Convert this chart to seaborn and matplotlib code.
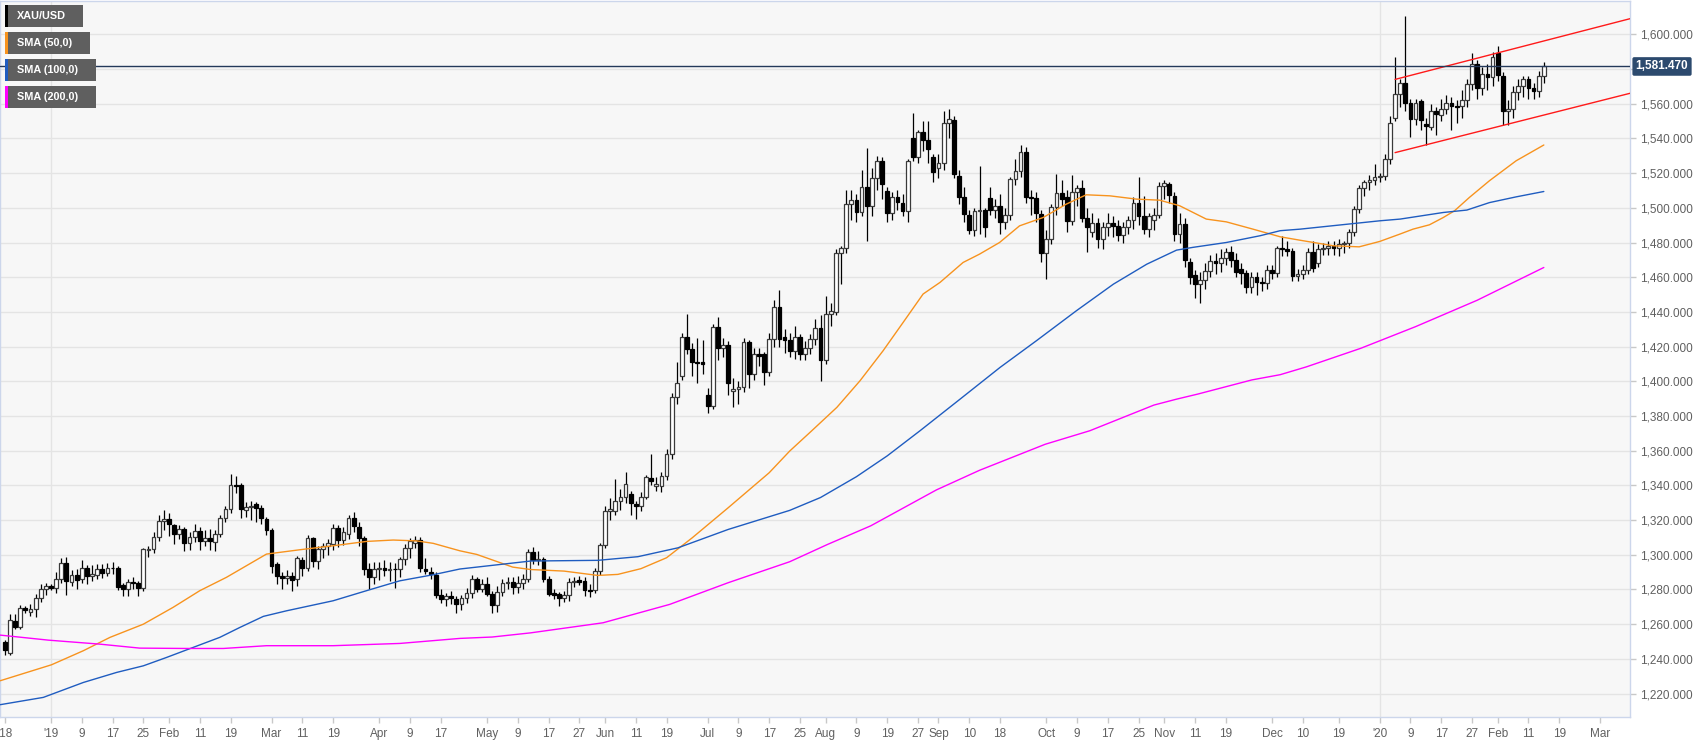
import numpy as np
import pandas as pd
import matplotlib
matplotlib.use("Agg")
import matplotlib.pyplot as plt
from matplotlib import font_manager as fm
from matplotlib.patches import Rectangle
import matplotlib.transforms as mtransforms
import seaborn as sns

# ---------------- data ----------------
first_day = "2018-12-19"
holidays = ["2019-04-19", "2019-12-25"]

opens = [
    # Dec 2018
    1249.7, 1243.6, 1261.8, 1258.5, 1269.3, 1267.2, 1268.9, 1275.3, 1280.2,
    # Jan 2019
    1282, 1281, 1285.8, 1295, 1284.5, 1288.5, 1285.8, 1292.5, 1287.9, 1288.5, 1291.6, 1289.7,
    1292.5, 1292.2, 1282.4, 1280, 1284.5, 1283.5, 1281, 1302.5, 1303.5, 1310.4, 1319.4,
    # Feb
    1320.8, 1317, 1311.8, 1314.6, 1306.6, 1310.2, 1313.7, 1307.9, 1309.8, 1307.3, 1312.1, 1321,
    1326.2, 1340, 1340, 1325.8, 1327.5, 1329.4, 1327.1, 1320.8,
    # Mar
    1314.3, 1294.9, 1287.7, 1286.8, 1287.5, 1285.8, 1297, 1292.5, 1309.4, 1296.4, 1303.1, 1305,
    1306, 1315.2, 1308.5, 1311.8, 1321, 1316.2, 1309.4, 1291.6, 1287.4,
    # Apr
    1291.6, 1292.2, 1291.2, 1292, 1291.6, 1297.7, 1304, 1307, 1308.5, 1292, 1290, 1288.5,
    1276.8, 1274.7, 1276.2, 1274.3, 1271.4, 1274.9, 1278.1, 1285.8, 1280,
    # May
    1282.9, 1277.2, 1271, 1278.7, 1284, 1284.5, 1281.4, 1283.9, 1285.8, 1301.8, 1297, 1297.5,
    1286, 1277.7, 1277.4, 1274.9, 1277, 1284.5, 1285.4, 1284.9, 1279.9, 1279.9, 1290.4,
    # Jun
    1305.8, 1325, 1325.4, 1331.2, 1333.5, 1335, 1329.2, 1328, 1333.5, 1344.2, 1339.5, 1339.8,
    1345.6, 1358, 1390.7, 1403, 1425.3, 1418.6, 1411.3, 1410.9,
    # Jul
    1392, 1386, 1431.4, 1419, 1421, 1394.6, 1395.6, 1396.5, 1422.4, 1404, 1415.7, 1415.5,
    1405.3, 1424.6, 1443, 1425.4, 1424, 1417.3, 1425.4, 1415.8, 1419.2, 1424.4, 1430.8,
    # Aug
    1412.3, 1438.5, 1440, 1474.2, 1477, 1502, 1504.6, 1497.5, 1512, 1501.3, 1517.3, 1527,
    1509.6, 1497, 1506, 1502.7, 1498, 1540, 1529, 1543.7, 1538.8, 1529,
    # Sep
    1523, 1526, 1549, 1550.8, 1518.6, 1506, 1496, 1487.3, 1498, 1498.5, 1505.8, 1498.5,
    1501.3, 1491.7, 1496, 1516.5, 1521.2, 1532, 1506, 1505.4, 1496.3,
    # Oct
    1474, 1482.3, 1500.2, 1508.7, 1506, 1492.5, 1509.2, 1511.7, 1494.4, 1486, 1491.3, 1482.3,
    1488.7, 1491.5, 1489.5, 1484.2, 1489, 1492.9, 1503, 1495, 1487.5, 1493, 1496,
    # Nov
    1512.5, 1514, 1506.7, 1485, 1490.6, 1469, 1461, 1456, 1458.6, 1463.7, 1469.4, 1468,
    1471, 1474.6, 1469.8, 1465, 1462.5, 1454.4, 1460, 1457.3, 1456.7,
    # Dec
    1464.4, 1462.5, 1477, 1476, 1475, 1460.6, 1462, 1464, 1474.8, 1468, 1476, 1476.9,
    1478, 1477, 1479, 1480, 1486, 1499.2, 1511.7, 1514.6, 1516,
    # Jan 2020
    1517.5, 1518.5, 1528, 1552, 1565.6, 1571.7, 1560.2, 1551.2, 1561.5, 1548.3, 1546.7, 1556,
    1553.7, 1557, 1560.2, 1558.8, 1558.4, 1562.3, 1571.3, 1582.9, 1569, 1577, 1575.5,
    # Feb 2020
    1589, 1576, 1556, 1557, 1566.5, 1570, 1574, 1569, 1567.5, 1576,
]

highs = [
    1251, 1265.6, 1265.6, 1271, 1270.5, 1271.5, 1277.5, 1283, 1284,
    1283, 1290, 1298, 1299, 1291, 1292, 1296.8, 1294, 1294, 1294.5, 1294.5, 1295,
    1296, 1293.5, 1284, 1286, 1287, 1285, 1304, 1305, 1313, 1323, 1326,
    1324, 1318, 1317, 1316, 1313, 1318, 1316, 1314, 1315, 1314, 1323, 1328,
    1346.3, 1345.5, 1341.5, 1330.5, 1331, 1330.5, 1328.5, 1322,
    1315.5, 1296, 1290, 1291, 1290, 1299.3, 1299, 1311.6, 1310.5, 1305, 1307, 1309,
    1318, 1317, 1316, 1323, 1324.5, 1319, 1311, 1295, 1296,
    1296, 1297, 1296, 1295, 1299, 1306, 1309.5, 1311, 1310, 1298, 1293, 1290,
    1280, 1278, 1279, 1276.5, 1277, 1281, 1288.5, 1287, 1286,
    1287, 1279, 1282, 1286, 1287, 1287, 1287.5, 1289, 1303.5, 1304.5, 1302, 1299,
    1288, 1280.5, 1278.5, 1279, 1286.5, 1287, 1287.5, 1287, 1283, 1292.5, 1307,
    1328, 1333, 1343.6, 1338, 1348, 1337, 1331, 1336, 1346, 1358, 1345, 1348,
    1361, 1393, 1411, 1428, 1439, 1422, 1425, 1424,
    1396, 1433, 1437, 1425, 1423, 1402, 1400, 1425, 1424, 1419, 1419, 1417,
    1428, 1447, 1452.5, 1430, 1428, 1432, 1427, 1423, 1427, 1436, 1438,
    1449, 1445, 1476, 1478, 1510, 1510, 1508, 1522, 1534.6, 1523, 1530, 1529,
    1512, 1509, 1510, 1508, 1528, 1554.6, 1545, 1550, 1550, 1531,
    1531, 1556, 1557, 1553, 1522, 1512, 1499, 1500, 1524, 1500, 1512, 1505,
    1507.7, 1500, 1518, 1528, 1536, 1535, 1510, 1509, 1499,
    1487, 1502, 1519.6, 1516, 1510, 1519, 1513, 1516, 1500, 1497, 1494, 1492,
    1497, 1495, 1493, 1492, 1495, 1506, 1518, 1507, 1497, 1500, 1515,
    1516, 1515, 1509, 1497, 1494, 1471, 1464, 1463, 1468, 1473, 1474, 1476,
    1477, 1478, 1474, 1468, 1464, 1463, 1463, 1460, 1467,
    1467, 1478, 1484, 1481, 1477, 1465, 1467, 1477, 1481, 1479, 1480, 1481,
    1481, 1482, 1481, 1488, 1501, 1513, 1516, 1519, 1525,
    1520, 1531, 1553, 1587, 1574, 1610.8, 1563, 1563, 1563, 1552, 1560, 1558,
    1563, 1565, 1564, 1562, 1568, 1574, 1589, 1585, 1581, 1583, 1590,
    1593.5, 1578, 1562, 1570, 1574, 1576, 1576, 1572, 1579, 1584,
]

lows = [
    1242.5, 1242.5, 1257, 1257, 1266.5, 1265, 1264, 1273, 1277,
    1279.5, 1278, 1283.5, 1277, 1282, 1280, 1284, 1283, 1285, 1286, 1286.5, 1287.5,
    1289, 1279.5, 1276.5, 1276.5, 1280, 1276, 1279, 1298.5, 1301, 1308, 1314.5,
    1311, 1306, 1309, 1302, 1302.5, 1307.5, 1302.5, 1305, 1302.5, 1302, 1310, 1319,
    1324, 1335.5, 1321.4, 1321.5, 1320, 1319, 1318, 1311.5,
    1289.7, 1283, 1280.5, 1283, 1279, 1282, 1288, 1290.5, 1293, 1292, 1298, 1300,
    1303, 1304.5, 1305.5, 1309, 1313, 1305, 1288.5, 1280.5, 1283,
    1285.5, 1288, 1285, 1281, 1287, 1294, 1298, 1304, 1290, 1289, 1286, 1275,
    1272, 1270.5, 1271.5, 1266.5, 1268, 1272, 1275, 1278.5, 1278.5,
    1276, 1266.5, 1267, 1276, 1280, 1277.5, 1278, 1280.5, 1284.5, 1294.5, 1294, 1284.5,
    1276, 1274.5, 1270.7, 1272.5, 1273.5, 1281.5, 1282.5, 1276.5, 1275.5, 1278, 1288.5,
    1304, 1320, 1323, 1326, 1330, 1323, 1320.7, 1325.5, 1332, 1340, 1337, 1336,
    1343, 1355, 1387, 1401, 1416, 1403, 1399, 1404,
    1382, 1384, 1412, 1414, 1392, 1385, 1387, 1394, 1396, 1401, 1409, 1398,
    1403, 1420, 1420, 1416.5, 1414, 1413, 1412.5, 1412, 1416, 1421, 1400,
    1410, 1432, 1438, 1456, 1474, 1493, 1492, 1495, 1481, 1495, 1510, 1505,
    1492, 1493, 1499, 1495, 1492, 1527, 1526, 1533, 1526, 1515,
    1517, 1522, 1540, 1517, 1502, 1492, 1485, 1484, 1485, 1483, 1496, 1494,
    1485, 1488, 1493, 1513, 1518, 1503, 1496, 1492, 1469,
    1459.2, 1479, 1496, 1501, 1486, 1490, 1501, 1492, 1474.5, 1483, 1477, 1476,
    1484, 1483, 1481, 1480, 1485, 1488, 1490, 1485, 1483, 1487, 1494,
    1505, 1503, 1481, 1480, 1466, 1456, 1448, 1445, 1453, 1460, 1462, 1463,
    1467, 1466, 1460, 1456, 1451, 1451, 1450, 1452, 1453,
    1459, 1460, 1472, 1472, 1458, 1458, 1459, 1462, 1463, 1466, 1473, 1473,
    1473, 1472, 1474, 1477, 1484, 1497, 1507, 1510, 1513,
    1515, 1516, 1525, 1550, 1558, 1556, 1541, 1548, 1545, 1536, 1545, 1542,
    1550, 1554, 1545, 1549, 1552, 1558, 1568, 1563, 1565, 1568, 1570,
    1573, 1548, 1548, 1552, 1562, 1564, 1563, 1563, 1564, 1572,
]

closes = [
    1244.9, 1262.2, 1258.5, 1269.3, 1268, 1268.9, 1275.3, 1280.4, 1282,
    1281, 1285.8, 1295, 1284.9, 1288.5, 1285.2, 1292.5, 1287.7, 1289, 1291.6, 1289.7, 1292.5,
    1292.2, 1281.4, 1280, 1284.5, 1283.5, 1281, 1303.1, 1303.5, 1310.4, 1319.4, 1320.8,
    1317.5, 1311.8, 1314.6, 1307, 1310.2, 1313.7, 1307.9, 1309.8, 1307.9, 1312.1, 1321, 1326.2,
    1340, 1339.6, 1326.2, 1327.7, 1328.1, 1327.1, 1321.4, 1314.3,
    1293.5, 1287.7, 1286.8, 1287.7, 1285.6, 1298.3, 1292.5, 1309.4, 1296.4, 1303.1, 1305, 1307,
    1315.2, 1308.5, 1313.3, 1321, 1316.5, 1309.4, 1291.6, 1287.4, 1291.6,
    1292.2, 1291.2, 1292, 1291.6, 1297.7, 1304, 1308, 1308.5, 1292.5, 1290.6, 1288.7, 1276.8,
    1274.3, 1276.2, 1274.9, 1271.4, 1274.9, 1278.1, 1286.2, 1280.4, 1282.9,
    1277.2, 1271, 1278.7, 1284, 1284.5, 1281.4, 1283.9, 1285.8, 1301.8, 1297, 1297.5, 1286,
    1277.6, 1277, 1275, 1277, 1284.5, 1285, 1284.5, 1279.9, 1279.2, 1290.4, 1305.8,
    1325, 1326.4, 1331.2, 1333.5, 1340.8, 1329.6, 1328.3, 1333.5, 1344.6, 1342.3, 1340.8, 1345.6,
    1358, 1390.7, 1399.3, 1425.3, 1418.6, 1410.9, 1410.3, 1410,
    1386, 1431.4, 1419, 1421, 1399.3, 1395.6, 1396.5, 1422.4, 1404, 1415.7, 1414.7, 1405.3,
    1424.6, 1443, 1424.4, 1423.8, 1417.3, 1425.4, 1415.8, 1419, 1424.4, 1430.8, 1412.3,
    1438.5, 1440.8, 1474.2, 1477, 1502, 1504.6, 1497.5, 1512, 1501.3, 1517.3, 1527, 1514,
    1497, 1506, 1503.3, 1498, 1527, 1529, 1543.7, 1538.8, 1534, 1520.6,
    1526, 1549, 1551.3, 1519.2, 1506, 1496.5, 1487.3, 1498, 1498.5, 1489, 1498.5, 1501.3,
    1491.7, 1496, 1516.7, 1521.2, 1532, 1506.5, 1505.4, 1497, 1474,
    1482.3, 1500.2, 1508.7, 1504.8, 1492.5, 1509.2, 1511.5, 1494.4, 1488.7, 1491.3, 1482.3, 1488.7,
    1491.5, 1489.5, 1484.2, 1489, 1492.9, 1503, 1495, 1487.5, 1495.4, 1496, 1512.5,
    1514.4, 1507.3, 1485, 1490.6, 1469.8, 1460, 1456.3, 1458.6, 1463.7, 1469.4, 1468, 1471,
    1474.6, 1469.8, 1463, 1462.5, 1454.4, 1460, 1457.3, 1456.7, 1464.4,
    1462.5, 1477, 1476, 1475, 1460.6, 1462, 1464, 1474.8, 1465.2, 1476, 1476.9, 1478,
    1477, 1479, 1480, 1486, 1499.2, 1511.7, 1514.6, 1516, 1517.5,
    1518.5, 1528, 1548.8, 1565.6, 1571.7, 1560.2, 1551.2, 1560.2, 1550.8, 1547.1, 1556, 1554,
    1557, 1560.2, 1558.8, 1558.3, 1562.3, 1571.3, 1582.9, 1569, 1577, 1575.5, 1587,
    1576.7, 1556, 1557, 1566.5, 1570.4, 1574, 1569, 1567.5, 1576, 1581.47,
]

# moving averages (x = trading days from 2019-01-01)
sma50_t = [-9.9, 0.1, 6.3, 11.5, 18, 23.8, 29, 34.2, 38.1, 42, 48.5, 55, 61.5, 66.7, 71.3,
           74.5, 79.7, 83, 90, 93.5, 100, 106.6, 110.5, 115, 120, 125, 132, 140, 144, 148.3,
           153.2, 157.7, 162.2, 166.1, 170, 173.3, 177.8, 181, 184.9, 188.8, 193.4, 197.9,
           201.8, 206.4, 211.6, 216.1, 220, 225.2, 229.1, 234.3, 239.6, 243.5, 250, 255, 259,
           262.9, 265.5, 268.7, 271.4, 273.6, 276.5, 280.4, 285.6, 291]
sma50_v = [1227.4, 1236.6, 1244.7, 1252.4, 1260, 1269.7, 1279.3, 1287, 1293.7, 1300.4,
           1302.9, 1305.2, 1307.7, 1308.5, 1308, 1306.6, 1302.3, 1300.2, 1292.9, 1291.5,
           1290.6, 1288.1, 1288.7, 1292, 1298.3, 1309.8, 1327.1, 1347.3, 1359.8, 1371.5,
           1385, 1400.3, 1417.6, 1433.9, 1450.3, 1457, 1468.5, 1473.3, 1480, 1489.6,
           1494.4, 1502.1, 1507.5, 1506.9, 1505, 1504.4, 1501.2, 1493.5, 1491.9, 1487.7,
           1483.3, 1481.3, 1478.1, 1477.5, 1480.6, 1484.8, 1487.7, 1490.2, 1494.4, 1498.3,
           1506, 1515.6, 1527.1, 1536.2]
sma100_t = [-9.9, -1.5, 6.3, 12.8, 18, 22.5, 27.7, 32.9, 36.8, 41.4, 45.9, 55, 61.5, 68, 74.5,
            79.7, 93.5, 106.6, 114.4, 122.2, 132, 144, 150, 157, 163, 169.4, 177.2, 185,
            192.1, 199.9, 207.1, 213.6, 219.4, 222.6, 229.1, 235.7, 239.6, 243.5, 259, 263,
            271.4, 276, 280.4, 285.6, 291]
sma100_v = [1213.6, 1217.8, 1226.4, 1232.2, 1236, 1240.8, 1246.6, 1252.4, 1258.1, 1264.5,
            1267.7, 1273.5, 1279.3, 1285, 1288.5, 1291.8, 1296.4, 1296.8, 1298.9, 1304,
            1314.6, 1325.6, 1333, 1345, 1357, 1371.5, 1389.7, 1408, 1423.4, 1440.7,
            1456, 1467.5, 1475.6, 1477.2, 1480, 1483.9, 1486.8, 1487.7, 1492.5, 1493.5,
            1497.3, 1498.7, 1503, 1506.3, 1509.4]
sma200_t = [-9.9, -0.5, 9.5, 17.3, 26.4, 33.6, 42, 55, 68, 79.7, 86, 93.5, 107.6, 120.6, 132,
            144, 151.4, 159.8, 172.6, 181, 193.8, 202.5, 215, 219.4, 223.5, 234.1, 239.6,
            244.7, 255.3, 266, 278, 291]
sma200_v = [1253.7, 1250.8, 1248.5, 1246.2, 1246, 1246, 1247.6, 1247.6, 1248.9, 1251.8,
            1252.6, 1255, 1260.8, 1271.4, 1283.9, 1296, 1306, 1316.7, 1337.4, 1348.7,
            1363.7, 1371.5, 1386.3, 1389.7, 1392.6, 1400.8, 1403.8, 1408.3, 1419, 1431.5,
            1446.7, 1465.6]

# channel (start on 2020-01-06, end at right edge of the plot)
channel_start = "2020-01-06"
channel_upper = [1574.0, 1609.0]
channel_lower = [1531.8, 1566.0]
last_price = 1581.47

tick_dates = ["2018-12-19", "2019-01-01", "2019-01-09", "2019-01-17", "2019-01-25", "2019-02-01",
              "2019-02-11", "2019-02-19", "2019-03-01", "2019-03-11", "2019-03-19", "2019-04-01",
              "2019-04-09", "2019-04-17", "2019-05-01", "2019-05-09", "2019-05-17", "2019-05-27",
              "2019-06-03", "2019-06-11", "2019-06-19", "2019-07-01", "2019-07-09", "2019-07-17",
              "2019-07-25", "2019-08-01", "2019-08-09", "2019-08-19", "2019-08-27", "2019-09-02",
              "2019-09-10", "2019-09-18", "2019-10-01", "2019-10-09", "2019-10-17", "2019-10-25",
              "2019-11-01", "2019-11-11", "2019-11-19", "2019-12-02", "2019-12-10", "2019-12-19",
              "2020-01-01", "2020-01-09", "2020-01-17", "2020-01-27", "2020-02-03", "2020-02-11",
              "2020-02-19", "2020-03-02"]
tick_texts = ["'18", "'19", "9", "17", "25", "Feb", "11", "19", "Mar", "11", "19", "Apr",
              "9", "17", "May", "9", "17", "27", "Jun", "11", "19", "Jul", "9", "17",
              "25", "Aug", "9", "19", "27", "Sep", "10", "18", "Oct", "9", "17", "25",
              "Nov", "11", "19", "Dec", "10", "19", "'20", "9", "17", "27", "Feb", "11",
              "19", "Mar"]
year_lines = ["2019-01-01", "2020-01-01"]
price_ticks = list(range(1220, 1601, 20))

# ---------------- layout ----------------
sns.set_theme(style="white")
avail = {f.name for f in fm.fontManager.ttflist}
base_font = "Liberation Sans" if "Liberation Sans" in avail else "DejaVu Sans"
narrow_font = "Liberation Sans Narrow" if "Liberation Sans Narrow" in avail else base_font
plt.rcParams['font.family'] = [base_font, 'DejaVu Sans']

cal = pd.bdate_range(first_day, "2020-03-31")
cal = cal[~cal.isin(pd.to_datetime(holidays))]
pos = {d: i for i, d in enumerate(cal)}
origin = pos[pd.Timestamp("2019-01-01")]


def t_of(d):
    return pos[pd.Timestamp(d)] - origin


W, H = 1707, 744
fig = plt.figure(figsize=(W / 100, H / 100), dpi=100, facecolor="white")
ax_left, ax_right, ax_bottom, ax_top = 0, 1630, 717, 1
ax = fig.add_axes([ax_left / W, 1 - ax_bottom / H, (ax_right - ax_left) / W, (ax_bottom - ax_top) / H])
ax.set_facecolor("#f7f7f7")

px_per_day = 5.13
x0_px = 51.0
xmin = (ax_left - x0_px) / px_per_day
xmax = (ax_right - x0_px) / px_per_day
ymin, ymax = 1206.5, 1619.2
ax.set_xlim(xmin, xmax)
ax.set_ylim(ymin, ymax)

# grid
for p in price_ticks:
    ax.axhline(p, color="#e4e4e4", lw=1.0, zorder=0)
for d in year_lines:
    ax.axvline(t_of(d), color="#e4e4e4", lw=1.0, zorder=0)

# candles
o = np.array(opens, float)
h = np.array(highs, float)
l = np.array(lows, float)
c = np.array(closes, float)
n = len(c)
t = np.arange(n) - origin
up = c >= o
ax.vlines(t, l, h, color="black", lw=0.9, zorder=2)
body_low = np.minimum(o, c)
body_h = np.maximum(np.abs(c - o), 0.35)
ax.bar(t[up], body_h[up], bottom=body_low[up], width=0.74, color="white",
       edgecolor="#3a3a3a", linewidth=0.9, zorder=3)
ax.bar(t[~up], body_h[~up], bottom=body_low[~up], width=0.74, color="black",
       edgecolor="black", linewidth=0.9, zorder=3)

# moving averages
sns.lineplot(x=sma50_t, y=sma50_v, ax=ax, color="#f7931e", lw=1.0, zorder=4)
sns.lineplot(x=sma100_t, y=sma100_v, ax=ax, color="#1f5cc0", lw=1.0, zorder=4)
sns.lineplot(x=sma200_t, y=sma200_v, ax=ax, color="#ff00ff", lw=1.0, zorder=4)

# channel
cx = [t_of(channel_start), xmax]
ax.plot(cx, channel_upper, color="#ff1a1a", lw=1.0, zorder=5, clip_on=True)
ax.plot(cx, channel_lower, color="#ff1a1a", lw=1.0, zorder=5, clip_on=True)

# last price line
ax.axhline(last_price, color="#24395a", lw=1.0, zorder=5)

# axes styling
for s in ax.spines.values():
    s.set_visible(True)
    s.set_color("#ccd6eb")
    s.set_linewidth(1.0)
ax.yaxis.tick_right()
ax.set_yticks(price_ticks)
# the 1,580 label sits under the last-price tag, so it is left blank
ax.set_yticklabels(["" if abs(p - last_price) < 10 else f"{p:,.3f}" for p in price_ticks])
ax.set_xticks([t_of(d) for d in tick_dates])
ax.set_xticklabels(tick_texts)
ax.tick_params(axis="y", which="both", right=True, left=False, length=4, width=1,
               color="#c8c8c8", labelcolor="#606060", labelsize=8.5, pad=3)
ax.tick_params(axis="x", which="both", bottom=True, length=4, width=1,
               color="#c8c8c8", labelcolor="#606060", labelsize=8.5, pad=4)
for lab in ax.get_xticklabels():
    lab.set_fontfamily(narrow_font)
ax.set_xlabel("")
ax.set_ylabel("")
ax.grid(False)

# last price tag
trans = mtransforms.blended_transform_factory(ax.transAxes, ax.transData)
ax.text(1.0035, last_price, f"{last_price:,.3f}", transform=trans, ha="left", va="center",
        color="white", fontsize=8.5, fontweight="bold", zorder=10, clip_on=False,
        bbox=dict(boxstyle="round,pad=0.28,rounding_size=0.15", fc="#2c4a6e", ec="none"))

# legend boxes (pixel overlay)
ov = fig.add_axes([0, 0, 1, 1], facecolor="none")
ov.set_xlim(0, W)
ov.set_ylim(H, 0)
ov.axis("off")
legend_items = [("XAU/USD", "#000000", 78), ("SMA (50,0)", "#f7931e", 85),
                ("SMA (100,0)", "#1f5cc0", 91), ("SMA (200,0)", "#ff00ff", 91)]
for i, (txt, col, w) in enumerate(legend_items):
    y0 = 5 + i * 27
    ov.add_patch(Rectangle((5, y0), w, 21.5, fc="#5f5f5f", ec="none"))
    ov.add_patch(Rectangle((5, y0), 3, 21.5, fc=col, ec="none"))
    ov.text(17, y0 + 11, txt, color="white", fontsize=7.8, fontweight="bold",
            va="center", ha="left")

fig.savefig("out.png", dpi=100, facecolor="white")
